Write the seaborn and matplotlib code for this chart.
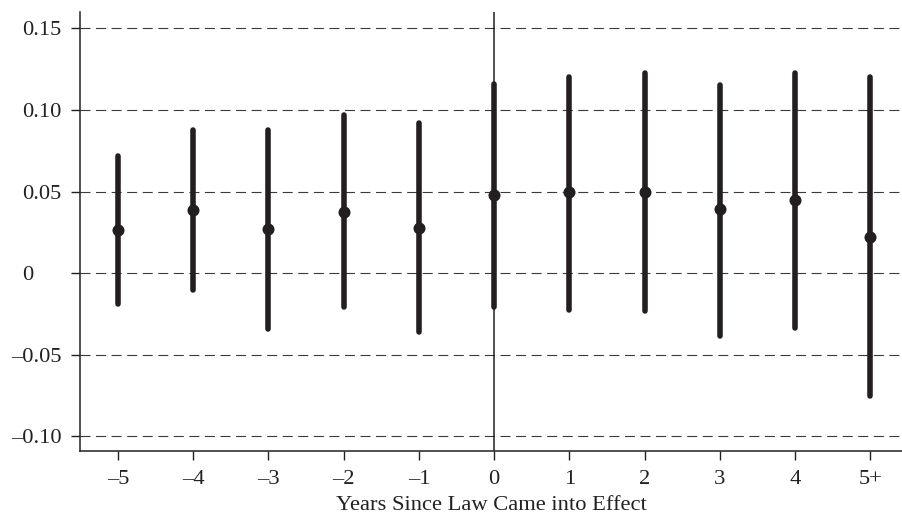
import numpy as np
import pandas as pd
import matplotlib
matplotlib.use("Agg")
import matplotlib.pyplot as plt
import matplotlib.transforms as mtransforms
import seaborn as sns

# event-study estimates
years = ["\u20135", "\u20134", "\u20133", "\u20132", "\u20131", "0", "1", "2", "3", "4", "5+"]
estimate = [0.0263, 0.0386, 0.0273, 0.0375, 0.0277, 0.0477, 0.0498, 0.0498, 0.0390, 0.0447, 0.0222]
ci_low   = [-0.019, -0.0105, -0.034, -0.021, -0.036, -0.021, -0.0226, -0.0232, -0.0386, -0.0334, -0.0753]
ci_high  = [0.072, 0.0875, 0.088, 0.0967, 0.0918, 0.116, 0.120, 0.1224, 0.115, 0.1224, 0.120]

y_ticks = [-0.10, -0.05, 0.0, 0.05, 0.10, 0.15]
y_ticklabels = ["\u20130.10", "\u20130.05", "0", "0.05", "0.10", "0.15"]

df = pd.DataFrame({"year": years, "est": estimate, "lo": ci_low, "hi": ci_high})
df["pos"] = np.arange(len(df))

sns.set_style("ticks")
plt.rcParams["font.family"] = ["Liberation Serif", "DejaVu Serif"]

fig = plt.figure(figsize=(9.02, 5.18), dpi=100)
ax = fig.add_axes([0.0887, 0.1293, 0.9113, 0.8475])

dark = "#231f20"

for y in y_ticks:
    ax.axhline(y, color="#3a3a3a", lw=0.8, linestyle=(0, (9, 5)), zorder=1)

ax.axvline(df["pos"][years.index("0")], color=dark, lw=1.1, zorder=2)

ax.vlines(df["pos"], df["lo"], df["hi"], color=dark, lw=4.0,
          capstyle="round", zorder=3)
sns.scatterplot(data=df, x="pos", y="est", color=dark, s=75,
                edgecolor=dark, linewidth=0, zorder=4, ax=ax)

ax.set_xlim(-0.505, 10.42)
ax.set_ylim(-0.109, 0.160)
ax.set_xticks(df["pos"])
ax.set_xticklabels(years)
ax.set_yticks(y_ticks)
ax.set_yticklabels(y_ticklabels)

ax.tick_params(axis="both", direction="out", length=6.5, width=1.0,
               color=dark, labelsize=16.2, labelcolor="#222222")
ax.tick_params(axis="x", pad=7)
ax.tick_params(axis="y", pad=7)
ax.set_xlabel("Years Since Law Came into Effect", fontsize=16.2,
              color="#222222", labelpad=5)
ax.set_ylabel("")

# the "0" label sits left, lined up with the first digit of "0.05"
zero_lbl = ax.get_yticklabels()[y_ticklabels.index("0")]
zero_lbl.set_horizontalalignment("left")
zero_lbl.set_transform(zero_lbl.get_transform()
                       + mtransforms.ScaledTranslation(-0.39, 0, fig.dpi_scale_trans))

for side in ["top", "right"]:
    ax.spines[side].set_visible(False)
for side in ["left", "bottom"]:
    ax.spines[side].set_linewidth(1.1)
    ax.spines[side].set_color(dark)

fig.savefig("out.png", dpi=100)
